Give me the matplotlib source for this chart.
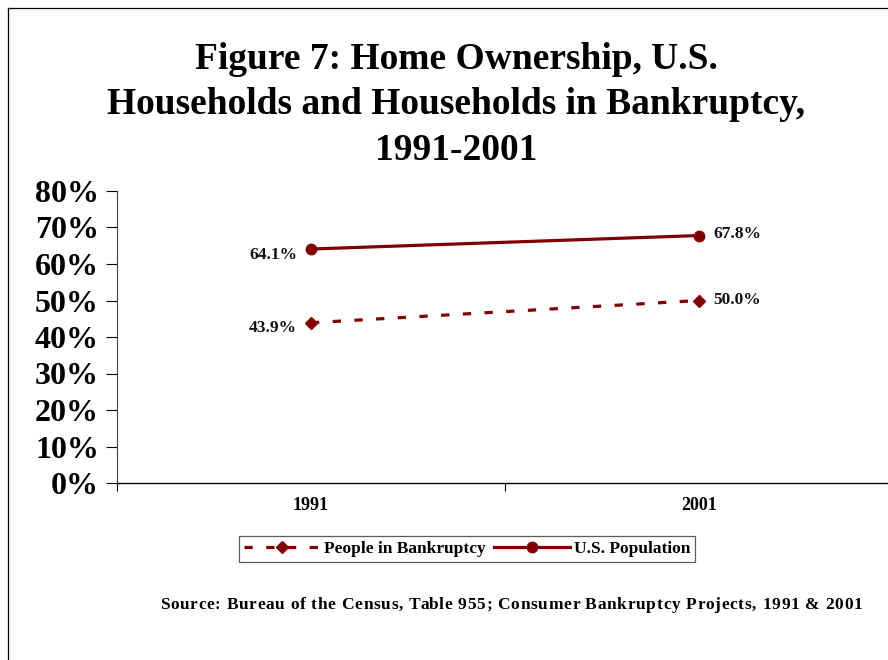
import matplotlib
matplotlib.use("Agg")
import matplotlib.pyplot as plt
from matplotlib.lines import Line2D
from matplotlib.ticker import FixedLocator, PercentFormatter

years = ["1991", "2001"]
bankruptcy = [43.9, 50.0]
us_population = [64.1, 67.8]
bankruptcy_label = "People in Bankruptcy"
population_label = "U.S. Population"
y_ticks = [0, 10, 20, 30, 40, 50, 60, 70, 80]
title = "Figure 7: Home Ownership, U.S.\nHouseholds and Households in Bankruptcy,\n1991-2001"
source = "Source: Bureau of the Census, Table 955; Consumer Bankruptcy Projects, 1991 & 2001"

RED = "#800000"
SERIF = ["Liberation Serif", "DejaVu Serif"]
plt.rcParams["font.family"] = SERIF
plt.rcParams["font.weight"] = "bold"

W, H = 888, 660
fig = plt.figure(figsize=(W / 100, H / 100), dpi=100)
fig.patch.set_facecolor("white")
renderer = fig.canvas.get_renderer()


def spaced_text(s, cx, cy, width_px, **kw):
    """Draw s centred at (cx, cy) px, letter-spaced to span width_px."""
    def w(t):
        tt = fig.text(0, 0, t, **kw)
        ext = tt.get_window_extent(renderer).width
        tt.remove()
        return ext
    bar = w("|")
    offs = [w(s[:i] + "|") - bar if i else 0.0 for i in range(len(s) + 1)]
    natural = offs[-1]
    track = max((width_px - natural) / max(len(s) - 1, 1), 0)
    x0 = cx - (natural + track * (len(s) - 1)) / 2
    for i, ch in enumerate(s):
        if ch != " ":
            fig.text((x0 + offs[i] + i * track) / W, 1 - cy / H, ch,
                     ha="left", va="center", **kw)


# outer border: top and left edges only visible (box runs past the image)
fig.add_artist(Line2D([8 / W, 8 / W], [0, 1 - 8 / H], color="black", lw=0.9,
                      transform=fig.transFigure))
fig.add_artist(Line2D([8 / W, 1], [1 - 8 / H, 1 - 8 / H], color="black", lw=0.9,
                      transform=fig.transFigure))

ax = fig.add_axes([117 / W, 1 - 483 / H, (893 - 117) / W, (483 - 191) / H])
x = list(range(len(years)))

ax.plot(x, bankruptcy, color=RED, lw=2.3, linestyle=(0, (2.6, 4.2)),
        marker="D", markersize=6, label=bankruptcy_label)
ax.plot(x, us_population, color=RED, lw=2.3, marker="o", markersize=7.5,
        label=population_label)

ax.set_xlim(-0.5, len(years) - 0.5)
ax.set_ylim(0, 80)
ax.yaxis.set_major_locator(FixedLocator(y_ticks))
ax.yaxis.set_major_formatter(PercentFormatter(decimals=0))
ax.set_xticks(x)
ax.set_xticklabels(years, fontsize=13, fontweight="bold")
ax.tick_params(axis="x", length=0, pad=10)
ax.set_xticks([-0.5, 0.5, 1.5], minor=True)
ax.tick_params(axis="x", which="minor", length=6, width=0.8, direction="out")
ax.tick_params(axis="y", length=8, width=0.8, direction="out", labelsize=23, pad=5)
for lbl in ax.get_yticklabels():
    lbl.set_fontweight("bold")
for s in ["top", "right"]:
    ax.spines[s].set_visible(False)
ax.spines["left"].set_linewidth(0.8)
ax.spines["left"].set_color("#444444")
ax.spines["bottom"].set_linewidth(1.0)

# data labels
lab_kw = dict(fontsize=12.5, fontweight="bold", color="#111111")
ax.annotate(f"{us_population[0]:.1f}%", (x[0], us_population[0]), xytext=(-10, -4),
            textcoords="offset points", ha="right", va="center", **lab_kw)
ax.annotate(f"{bankruptcy[0]:.1f}%", (x[0], bankruptcy[0]), xytext=(-10, -4),
            textcoords="offset points", ha="right", va="center", **lab_kw)
ax.annotate(f"{us_population[1]:.1f}%", (x[1], us_population[1]), xytext=(10, 1),
            textcoords="offset points", ha="left", va="center", **lab_kw)
ax.annotate(f"{bankruptcy[1]:.1f}%", (x[1], bankruptcy[1]), xytext=(10, 0),
            textcoords="offset points", ha="left", va="center", **lab_kw)

fig.text(456 / W, 1 - 105 / H, title, ha="center", va="center",
         fontsize=27, fontweight="bold", linespacing=1.38)

leg = fig.legend(loc="center", bbox_to_anchor=(467 / W, 1 - 549 / H), ncol=2,
                 frameon=True, fancybox=False, edgecolor="#333333",
                 prop={"family": SERIF, "weight": "bold", "size": 12.5},
                 handlelength=4.4, handletextpad=0.2, columnspacing=0.5,
                 borderpad=0.3, borderaxespad=0)
leg.get_frame().set_linewidth(0.9)

spaced_text(source, 511, 605, 702, fontsize=12.5, fontweight="bold")

fig.savefig("out.png", dpi=100)
